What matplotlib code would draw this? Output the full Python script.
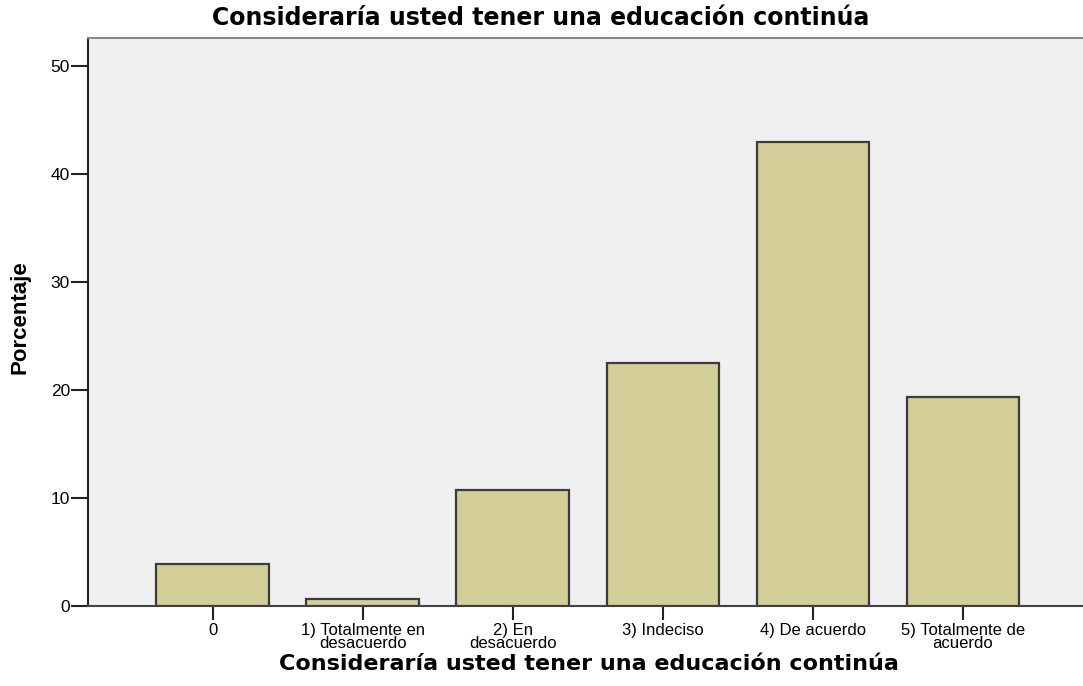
import matplotlib
matplotlib.use("Agg")
import matplotlib.pyplot as plt

categories = ["0", "1) Totalmente en\ndesacuerdo", "2) En\ndesacuerdo", "3) Indeciso",
              "4) De acuerdo", "5) Totalmente de\nacuerdo"]
percentages = [3.9, 0.65, 10.7, 22.5, 42.9, 19.3]
yticks = [0, 10, 20, 30, 40, 50]
title = "Consideraría usted tener una educación continúa"

fig = plt.figure(figsize=(10.83, 6.86), dpi=100)
ax = fig.add_axes([88 / 1083, 1 - 606 / 686, 1 - 88 / 1083, (606 - 37.5) / 686])
ax.set_facecolor("#f0f0f0")

x = list(range(len(categories)))
ax.bar(x, percentages, width=0.75, color="#d3ce98", edgecolor="#3c3c3c", linewidth=1.6, zorder=3)

ax.set_xlim(-0.83, 5.80)
ax.set_ylim(0, 52.6)
ax.set_yticks(yticks)
ax.set_xticks(x)
ax.set_xticklabels(categories, family="Liberation Sans", fontsize=12, linespacing=0.85)
ax.set_yticklabels([str(v) for v in yticks], family="Liberation Sans", fontsize=12.5)
ax.tick_params(axis="y", length=12, width=1.5, pad=1, color="#222222")
ax.tick_params(axis="x", length=10, width=1.5, pad=2, color="#222222")

ax.spines["right"].set_visible(False)
ax.spines["top"].set_color("#888888")
ax.spines["top"].set_linewidth(1.5)
ax.spines["left"].set_color("#222222")
ax.spines["left"].set_linewidth(1.5)
ax.spines["bottom"].set_color("#444444")
ax.spines["bottom"].set_linewidth(1.5)

fig.text(541 / 1083, 1 - 18 / 686, title, ha="center", va="center",
         fontsize=17, fontweight="bold", family="DejaVu Sans")
fig.text(589 / 1083, 1 - 664 / 686, title, ha="center", va="center",
         fontsize=16, fontweight="bold", family="DejaVu Sans")
fig.text(20 / 1083, 1 - 317 / 686, "Porcentaje", ha="center", va="center", rotation=90,
         fontsize=16, fontweight="bold", family=["Liberation Sans Narrow", "Liberation Sans"])

fig.savefig("out.png", dpi=100)
